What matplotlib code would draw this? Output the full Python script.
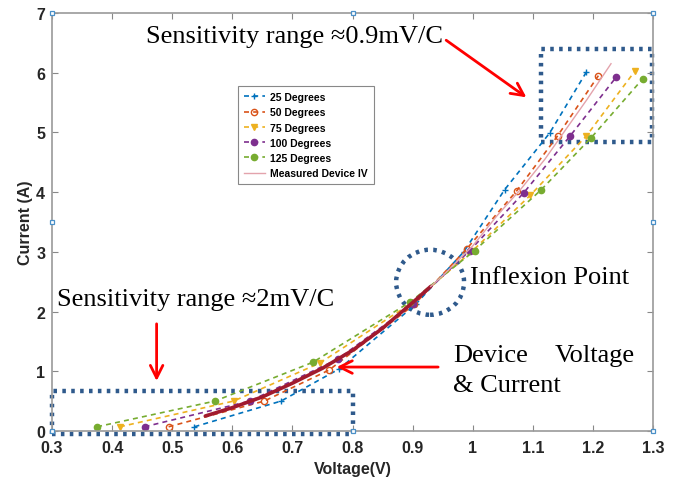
import matplotlib
matplotlib.use("Agg")
import matplotlib.pyplot as plt
from matplotlib.patches import Ellipse, Rectangle

# ── DATA ───────────────────────────────────────────────────────
v_25 = [0.537, 0.681, 0.778, 0.905, 0.985, 1.053, 1.128, 1.189]
i_25 = [0.07, 0.50, 1.04, 2.12, 3.00, 4.04, 4.99, 6.01]

v_50 = [0.494, 0.653, 0.761, 0.903, 0.990, 1.073, 1.141, 1.209]
i_50 = [0.07, 0.50, 1.02, 2.12, 3.05, 4.02, 4.94, 5.95]

v_75 = [0.413, 0.602, 0.746, 0.898, 1.000, 1.096, 1.189, 1.270]
i_75 = [0.07, 0.50, 1.14, 2.14, 3.02, 3.95, 4.94, 6.03]

v_100 = [0.454, 0.629, 0.775, 0.900, 0.995, 1.085, 1.162, 1.239]
i_100 = [0.07, 0.50, 1.20, 2.12, 3.02, 3.99, 4.94, 5.93]

v_125 = [0.375, 0.571, 0.734, 0.896, 1.003, 1.114, 1.197, 1.283]
i_125 = [0.07, 0.50, 1.15, 2.16, 3.02, 4.04, 4.91, 5.90]

# measured device IV (thick at low current, thin above the inflexion)
v_meas = [0.555, 0.60, 0.65, 0.70, 0.75, 0.80, 0.85, 0.90, 0.93,
          0.95, 1.00, 1.04, 1.08, 1.12, 1.15, 1.19, 1.23]
i_meas = [0.25, 0.39, 0.57, 0.80, 1.05, 1.35, 1.72, 2.15, 2.42,
          2.60, 3.10, 3.60, 4.05, 4.55, 4.98, 5.55, 6.15]
thick_end = 9

series = [
    ("25 Degrees", v_25, i_25, "#0072BD", "+", "full"),
    ("50 Degrees", v_50, i_50, "#D95319", "o", "none"),
    ("75 Degrees", v_75, i_75, "#EDB120", "v", "full"),
    ("100 Degrees", v_100, i_100, "#7E2F8E", "o", "full"),
    ("125 Degrees", v_125, i_125, "#77AC30", "o", "full"),
]

x_ticks = [0.3, 0.4, 0.5, 0.6, 0.7, 0.8, 0.9, 1, 1.1, 1.2, 1.3]
x_labels = ["0.3", "0.4", "0.5", "0.6", "0.7", "0.8", "0.9", "1", "1.1", "1.2", "1.3"]
y_ticks = [0, 1, 2, 3, 4, 5, 6, 7]

# ── CHART ──────────────────────────────────────────────────────
plt.rcParams["font.family"] = ["Liberation Sans", "DejaVu Sans"]
fig = plt.figure(figsize=(6.81, 4.81), dpi=100)
ax = fig.add_axes([0.0764, 0.102, 0.8826, 0.869])

for label, v, i, col, mk, fill in series:
    ax.plot(v, i, linestyle=(0, (3, 2.5)), color=col, linewidth=1.2,
            marker=mk, markersize=4.5, fillstyle=fill, markeredgewidth=1.0,
            label=label)

ax.plot(v_meas[:thick_end], i_meas[:thick_end], color="#A11A2E",
        linewidth=2.6, solid_capstyle="round")
ax.plot(v_meas[thick_end - 1:], i_meas[thick_end - 1:], color="#E3A3AC",
        linewidth=1.0)
ax.plot([], [], color="#E3A3AC", linewidth=1.0, label="Measured Device IV")

ax.set_xlim(0.3, 1.3)
ax.set_ylim(0, 7)
ax.set_xticks(x_ticks)
ax.set_xticklabels(x_labels)
ax.set_yticks(y_ticks)
ax.tick_params(direction="in", top=True, right=True, length=4, color="#888888",
               labelsize=11.5)
ax.tick_params(axis="x", pad=6.5)
ax.tick_params(axis="y", pad=5)
for lbl in ax.get_xticklabels() + ax.get_yticklabels():
    lbl.set_fontweight("bold")
    lbl.set_color("#262626")
for sp in ax.spines.values():
    sp.set_color("#999999")
    sp.set_linewidth(1.2)
ax.set_xlabel("Voltage(V)", fontsize=11.5, fontweight="bold", color="#262626", labelpad=4)
ax.set_ylabel("Current (A)", fontsize=11.5, fontweight="bold", color="#262626", labelpad=2)

leg = ax.legend(loc="upper left", bbox_to_anchor=(0.3, 0.838),
                prop={"weight": "bold", "size": 7.5}, handlelength=2.0,
                labelspacing=0.5, borderpad=0.6, handletextpad=0.5,
                fancybox=False, edgecolor="#888888", framealpha=1)
leg.get_frame().set_linewidth(0.8)

# selection handles on the axes box
hx = [0.3, 0.8, 1.3, 0.3, 1.3, 0.3, 0.8, 1.3]
hy = [7, 7, 7, 3.5, 3.5, 0, 0, 0]
ax.plot(hx, hy, linestyle="none", marker="s", markersize=3.5, mfc="white",
        mec="#4A90C8", mew=0.9, clip_on=False, zorder=10)

# ── ANNOTATIONS ────────────────────────────────────────────────
navy = "#2F5A8C"
ax.add_patch(Rectangle((1.114, 4.84), 0.184, 1.56, fill=False, edgecolor=navy,
                       linewidth=3.2, linestyle=(0, (0.8, 1.2)), clip_on=False))
ax.add_patch(Rectangle((0.3, -0.05), 0.5, 0.72, fill=False, edgecolor=navy,
                       linewidth=3.2, linestyle=(0, (0.8, 1.2)), clip_on=False))
ax.add_patch(Ellipse((0.929, 2.49), 0.113, 1.09, fill=False, edgecolor=navy,
                     linewidth=3.2, linestyle=(0, (0.8, 1.2)), clip_on=False))

serif = ["Liberation Serif", "DejaVu Serif"]
red = "#FF0000"
fs = 19
ax.text(0.457, 6.62, "Sensitivity range \u22480.9mV/C", family=serif, fontsize=fs,
        ha="left", va="center")
ax.text(0.308, 2.21, "Sensitivity range \u22482mV/C", family=serif, fontsize=fs,
        ha="left", va="center")
ax.text(0.996, 2.58, "Inflexion Point", family=serif, fontsize=fs,
        ha="left", va="center")
ax.text(0.967, 1.27, "Device", family=serif, fontsize=fs, ha="left", va="center")
ax.text(1.27, 1.27, "Voltage", family=serif, fontsize=fs, ha="right", va="center")
ax.text(0.967, 0.77, "& Current", family=serif, fontsize=fs, ha="left", va="center")

arrow = dict(arrowstyle="->,head_length=0.9,head_width=0.45", color=red, lw=2)
ax.annotate("", xy=(1.093, 5.56), xytext=(0.952, 6.57), arrowprops=arrow)
ax.annotate("", xy=(0.474, 0.79), xytext=(0.474, 1.84), arrowprops=arrow)
ax.annotate("", xy=(0.769, 1.07), xytext=(0.947, 1.07), arrowprops=arrow)

plt.savefig("out.png", dpi=100)
